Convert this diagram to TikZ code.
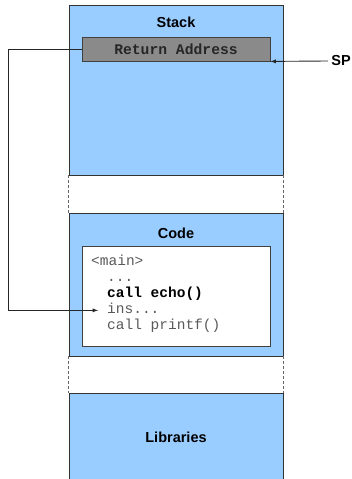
\documentclass[tikz,border=0pt]{standalone}
\usepackage{fontspec}
\setmainfont{Liberation Sans}
\setmonofont{Liberation Mono}
\usepackage{tikz}
\definecolor{memblue}{HTML}{99CCFF}
\definecolor{retgray}{HTML}{8A8A8A}
\definecolor{codegray}{HTML}{5A5A5A}
\tikzset{
  region/.style={draw=black!80, line width=0.8pt, fill=memblue, minimum width=214pt, inner sep=0pt},
  title/.style={font=\fontsize{14.5}{17}\selectfont\bfseries},
  codeline/.style={anchor=base west, inner sep=0pt, text=codegray, font=\fontsize{14.5}{17}\selectfont\ttfamily},
  gapline/.style={draw=black!60, line width=0.8pt, dashed, dash pattern=on 3pt off 2pt}
}
\begin{document}
\begin{tikzpicture}[x=1pt, y=-1pt]
                    \useasboundingbox (0,0) rectangle (352,479);
                    \node[region, minimum height=170pt] (stack) at (176,90) {};
                    \node[region, minimum height=143pt] (code) at (176,284.5) {};
                    \node[region, minimum height=88pt] (libs) at (176,437) {};
                    \draw[gapline] (stack.south west) -- (code.north west);
                    \draw[gapline] (stack.south east) -- (code.north east);
                    \draw[gapline] (code.south west) -- (libs.north west);
                    \draw[gapline] (code.south east) -- (libs.north east);
                    \node[title] (stacklbl) at (176,22) {Stack};
                    \node[title] (codelbl) at (176,233) {Code};
                    \node[title] (libslbl) at (176,437) {Libraries};
                    \node[draw=black!75, line width=0.8pt, fill=retgray, minimum width=188pt, minimum height=24pt, inner sep=0pt,
                          text=black!85, font=\fontsize{14.7}{17}\selectfont\ttfamily\bfseries] (ret) at (176,49) {Return Address};
                    \node[draw=black!75, line width=0.8pt, fill=white, minimum width=188pt, minimum height=100pt] (codebox) at (176,296) {};
                    \node[codeline] (main) at (91,265) {<main>};
                    \node[codeline] (dots) at (107,281) {...};
                    \node[codeline, text=black, font=\fontsize{14.5}{17}\selectfont\ttfamily\bfseries] (call) at (107,297) {call echo()};
                    \node[codeline] (ins) at (107,313) {ins...};
                    \node[codeline] (printf) at (107,329) {call printf()};
                    \node[title] (sp) at (341,61) {SP};
                    \coordinate (turn) at (8,0);
                    \draw[-latex, black!85, line width=0.9pt] (sp.west) -- (ret.south east);
                    \draw[-latex, black!85, line width=0.9pt, shorten >=9pt] (ret.west) -- (ret.west -| turn) |- (ins.mid west);
                \end{tikzpicture}
\end{document}
